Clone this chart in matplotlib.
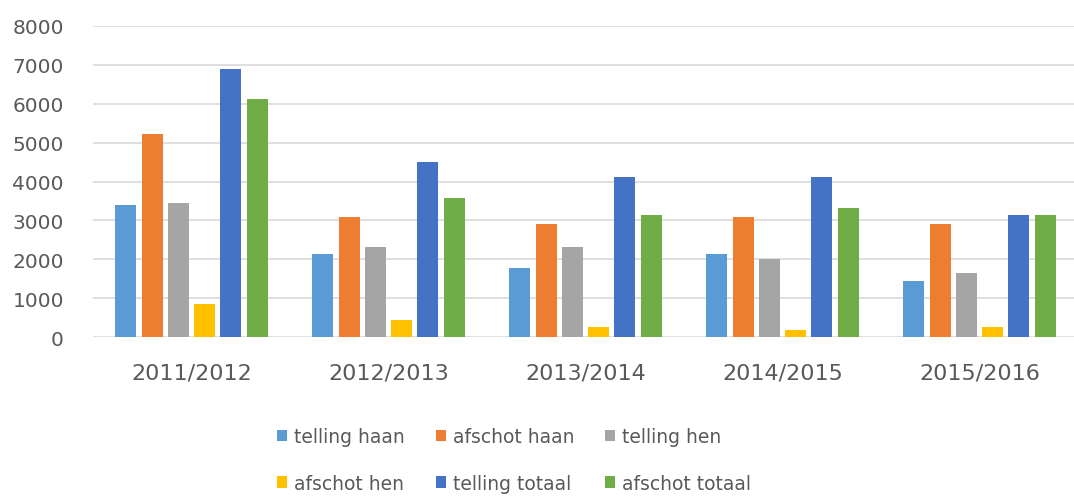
import numpy as np
import matplotlib
matplotlib.use('Agg')
import matplotlib.pyplot as plt

seasons = ['2011/2012', '2012/2013', '2013/2014', '2014/2015', '2015/2016']
series_names = ['telling haan', 'afschot haan', 'telling hen',
                'afschot hen', 'telling totaal', 'afschot totaal']
telling_haan = [3390, 2130, 1770, 2130, 1450]
afschot_haan = [5210, 3090, 2920, 3090, 2920]
telling_hen = [3460, 2310, 2310, 2010, 1640]
afschot_hen = [850, 440, 260, 200, 260]
telling_totaal = [6900, 4490, 4120, 4120, 3150]
afschot_totaal = [6110, 3570, 3150, 3330, 3150]
colors = ['#5B9BD5', '#ED7D31', '#A5A5A5', '#FFC000', '#4472C4', '#70AD47']

all_series = [telling_haan, afschot_haan, telling_hen,
              afschot_hen, telling_totaal, afschot_totaal]

plt.rcParams['font.family'] = ['DejaVu Sans']

fig = plt.figure(figsize=(10.74, 5.02), dpi=100)
W, H = 1074, 502
ax = fig.add_axes([93 / W, 1 - 338.3 / H, 985 / W, (338.3 - 26.7) / H])

x = np.arange(len(seasons))
pitch = 0.1335
width = 0.107
handles = []
for i, (vals, c) in enumerate(zip(all_series, colors)):
    b = ax.bar(x + (i - 2.5) * pitch, vals, width=width, color=c,
               label=series_names[i], zorder=3)
    handles.append(b)

ax.set_xlim(-0.5, 4.5)
ax.set_ylim(0, 8000)
ax.set_yticks(range(0, 8001, 1000))
ax.set_xticks(x)
ax.set_xticklabels(seasons)
ax.grid(axis='y', color='#D9D9D9', linewidth=1.2, zorder=0)
for s in ['top', 'right', 'left', 'bottom']:
    ax.spines[s].set_visible(False)
ax.tick_params(axis='both', length=0, colors='#595959')
ax.tick_params(axis='x', pad=18, labelsize=16)
ax.tick_params(axis='y', pad=21, labelsize=14.5)

# legend filled row by row like the original (matplotlib fills column-wise)
order = [0, 3, 1, 4, 2, 5]
leg = fig.legend([handles[i] for i in order], [series_names[i] for i in order],
                 ncol=3, loc='center', bbox_to_anchor=(514 / W, 1 - 461 / H),
                 frameon=False, fontsize=13.5, handlelength=0.55, handleheight=0.55,
                 handletextpad=0.35, columnspacing=1.65, labelspacing=1.45)
for t in leg.get_texts():
    t.set_color('#595959')

fig.savefig('out.png', dpi=100)
